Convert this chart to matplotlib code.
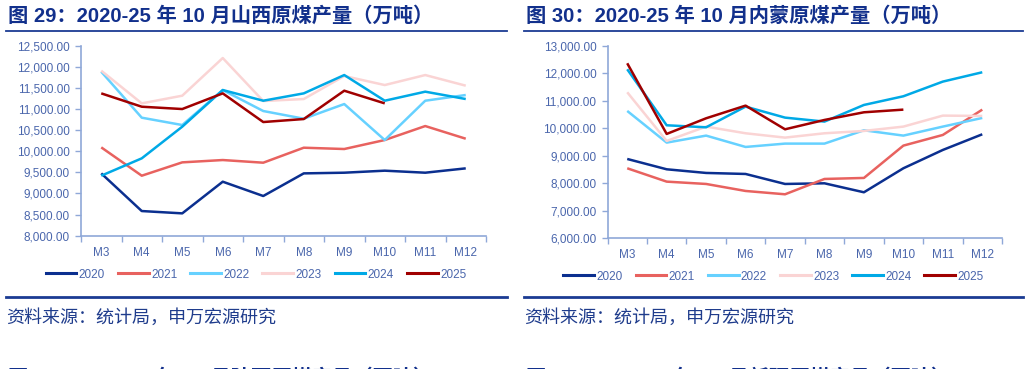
import matplotlib
matplotlib.use("Agg")
import matplotlib.pyplot as plt
from matplotlib.lines import Line2D

plt.rcParams['font.family'] = ['Liberation Sans', 'Noto Sans CJK SC', 'DejaVu Sans']

months = ['M3', 'M4', 'M5', 'M6', 'M7', 'M8', 'M9', 'M10', 'M11', 'M12']
years = ['2020', '2021', '2022', '2023', '2024', '2025']
colors = ['#0b2f8f', '#e8625f', '#66d1ff', '#fad4d4', '#00a9e6', '#a00000']

# 山西 (万吨)
sx_2020 = [9476, 8584, 8529, 9279, 8940, 9476, 9492, 9540, 9492, 9595]
sx_2021 = [10092, 9421, 9737, 9792, 9729, 10084, 10053, 10266, 10597, 10297]
sx_2022 = [11884, 10795, 10621, 11450, 10953, 10771, 11118, 10266, 11197, 11332]
sx_2023 = [11908, 11134, 11316, 12208, 11190, 11237, 11782, 11568, 11805, 11553]
sx_2024 = [9421, 9832, 10582, 11450, 11197, 11371, 11805, 11197, 11411, 11237]
sx_2025 = [11371, 11055, 11000, 11371, 10692, 10763, 11434, 11134]

# 内蒙 (万吨)
nm_2020 = [8888, 8512, 8379, 8342, 7978, 8002, 7675, 8549, 9216, 9786]
nm_2021 = [8549, 8063, 7978, 7723, 7602, 8160, 8197, 9374, 9762, 10684]
nm_2022 = [10636, 9483, 9738, 9325, 9447, 9447, 9932, 9738, 10066, 10381]
nm_2023 = [11316, 9544, 10066, 9823, 9665, 9823, 9908, 10066, 10466, 10454]
nm_2024 = [12153, 10114, 10041, 10794, 10393, 10248, 10854, 11170, 11704, 12044]
nm_2025 = [12371, 9799, 10369, 10830, 9968, 10308, 10587, 10684]

W, H = 1030, 369
fig = plt.figure(figsize=(W / 100, H / 100), dpi=100)

title_c = '#12308c'
tick_c = '#4a66ac'
spine_c = '#8fa8d8'


def px_axes(x0, y0, x1, y1):
    return fig.add_axes([x0 / W, 1 - y1 / H, (x1 - x0) / W, (y1 - y0) / H])


def draw_panel(ax, series, ylim, step):
    for name, vals, c in zip(years, series, colors):
        ax.plot(range(len(vals)), vals, color=c, lw=1.8, label=name,
                solid_capstyle='butt')
    ax.set_xlim(-0.5, len(months) - 0.5)
    ax.set_ylim(*ylim)
    ax.set_yticks(range(ylim[0], ylim[1] + 1, step))
    ax.yaxis.set_major_formatter(lambda v, p: f'{v:,.2f}')
    ax.set_xticks(range(len(months)))
    ax.set_xticklabels(months)
    ax.set_xticks([i - 0.5 for i in range(len(months) + 1)], minor=True)
    ax.tick_params(axis='x', which='major', length=0, pad=8, labelsize=8.5,
                   labelcolor=tick_c)
    ax.tick_params(axis='x', which='minor', length=4, color=spine_c, width=1)
    ax.tick_params(axis='y', length=4, color=spine_c, width=1, labelsize=8.5,
                   labelcolor=tick_c, pad=4)
    for s in ['top', 'right']:
        ax.spines[s].set_visible(False)
    for s in ['left', 'bottom']:
        ax.spines[s].set_color(spine_c)
        ax.spines[s].set_linewidth(1.2)


ax1 = px_axes(81, 45.7, 486, 235.7)
draw_panel(ax1, [sx_2020, sx_2021, sx_2022, sx_2023, sx_2024, sx_2025],
           (8000, 12500), 500)
ax2 = px_axes(607.5, 46, 1002, 238.3)
draw_panel(ax2, [nm_2020, nm_2021, nm_2022, nm_2023, nm_2024, nm_2025],
           (6000, 13000), 1000)

handles = [Line2D([], [], color=c, lw=2.2) for c in colors]
for cx, cy in [(256, 274.5), (773.5, 276.5)]:
    leg = fig.legend(handles, years, loc='center', ncol=6, frameon=False,
                     bbox_to_anchor=(cx / W, 1 - cy / H), fontsize=8.5,
                     handlelength=2.6, handletextpad=0.2, columnspacing=1.1)
    for t in leg.get_texts():
        t.set_color(tick_c)

titles = ['图 29：2020-25 年 10 月山西原煤产量（万吨）',
          '图 30：2020-25 年 10 月内蒙原煤产量（万吨）']
next_titles = ['图 31：2020-25 年 10 月陕西原煤产量（万吨）',
               '图 32：2020-25 年 10 月新疆原煤产量（万吨）']
for x0, x1, t, nt in [(6, 507, titles[0], next_titles[0]),
                      (524, 1023, titles[1], next_titles[1])]:
    fig.text((x0 + 2) / W, 1 - 16 / H, t, fontsize=14.6, fontweight='bold',
             color=title_c, va='center', ha='left')
    fig.add_artist(Line2D([x0 / W, x1 / W], [1 - 30.5 / H, 1 - 30.5 / H],
                          color='#1b3b93', lw=1.3))
    fig.add_artist(Line2D([x0 / W, x1 / W], [1 - 296.7 / H, 1 - 296.7 / H],
                          color='#1b3b93', lw=2))
    fig.text(x0 / W, 1 - 318 / H, '资料来源：统计局，申万宏源研究', fontsize=13,
             color='#1f3c8c', va='center', ha='left')
    # next figure's title, cut off by the bottom edge as in the page crop
    fig.text((x0 + 2) / W, 1 - 378 / H, nt, fontsize=14.6, fontweight='bold',
             color=title_c, va='center', ha='left')

fig.savefig('out.png', dpi=100)
